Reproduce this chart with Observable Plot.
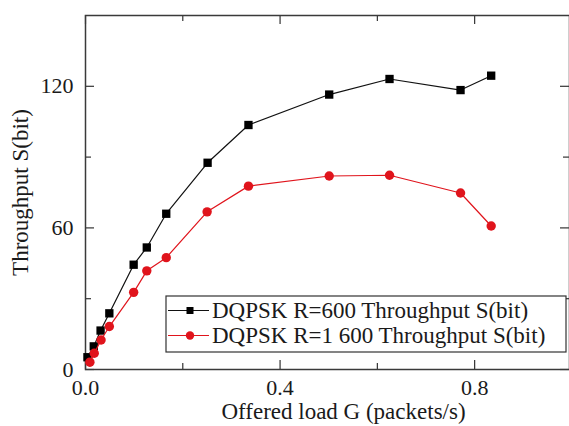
<!DOCTYPE html>
<html><head><meta charset="utf-8">
<script src="https://cdn.jsdelivr.net/npm/d3@7"></script>
<script src="https://cdn.jsdelivr.net/npm/@observablehq/plot@0.6"></script>
<style>
body{margin:0;background:#fff}
#chart{width:569px;height:426px}
</style>
</head><body><div id="chart"></div>
<script>
const seriesNames = ["DQPSK R=600 Throughput S(bit)", "DQPSK R=1 600 Throughput S(bit)"];
const seriesColors = ["#111111", "#e0141c"];
const seriesSymbols = ["square", "circle"];
const loadR600 = [0.004, 0.017, 0.031, 0.049, 0.099, 0.126, 0.166, 0.251, 0.335, 0.501, 0.625, 0.771, 0.834];
const throughputR600 = [5.2, 9.8, 16.5, 23.8, 44.4, 51.7, 66.0, 87.6, 103.6, 116.5, 123.1, 118.4, 124.5];
const loadR1600 = [0.009, 0.018, 0.032, 0.049, 0.099, 0.126, 0.166, 0.25, 0.335, 0.501, 0.625, 0.771, 0.834];
const throughputR1600 = [3.1, 6.9, 12.5, 18.2, 32.7, 41.8, 47.4, 66.8, 77.7, 82.0, 82.3, 74.8, 60.8];
const xTickValues = [0, 0.4, 0.8];
const xMinorTicks = [0.2, 0.6, 1.0];
const yTickValues = [0, 60, 120];
const yMinorTicks = [30, 90];
const xTitle = "Offered load G (packets/s)";
const yTitle = "Throughput S(bit)";

const dataA = loadR600.map((x, i) => ({x, y: throughputR600[i]}));
const dataB = loadR1600.map((x, i) => ({x, y: throughputR1600[i]}));

const W = 569, H = 426, mL = 85, mT = 15, mR = 0, mB = 57;
const fw = W - mL - mR, fh = H - mT - mB;
const tickCol = "#333";
const fontFam = "Liberation Serif, Times New Roman, serif";

const plot = Plot.plot({
  width: W, height: H,
  marginLeft: mL, marginTop: mT, marginRight: mR, marginBottom: mB,
  style: {fontFamily: fontFam, background: "#fff", color: "#1a1a1a"},
  x: {domain: [0, 0.995]},
  y: {domain: [0, 150]},
  marks: [
    Plot.tickX(xTickValues, {x: d => d, insetTop: fh - 9, stroke: tickCol, strokeWidth: 1.2}),
    Plot.tickX(xTickValues, {x: d => d, insetBottom: fh - 9, stroke: tickCol, strokeWidth: 1.2}),
    Plot.tickX(xMinorTicks, {x: d => d, insetTop: fh - 6, stroke: tickCol, strokeWidth: 1.2}),
    Plot.tickX(xMinorTicks, {x: d => d, insetBottom: fh - 6, stroke: tickCol, strokeWidth: 1.2}),
    Plot.tickY(yTickValues, {y: d => d, insetRight: fw - 9, stroke: tickCol, strokeWidth: 1.2}),
    Plot.tickY(yTickValues, {y: d => d, insetLeft: fw - 9, stroke: tickCol, strokeWidth: 1.2}),
    Plot.tickY(yMinorTicks, {y: d => d, insetRight: fw - 6, stroke: tickCol, strokeWidth: 1.2}),
    Plot.tickY(yMinorTicks, {y: d => d, insetLeft: fw - 6, stroke: tickCol, strokeWidth: 1.2}),
    Plot.axisX(xTickValues, {tickSize: 0, tickPadding: 10, fontSize: 22, tickFormat: d3.format(".1f"), label: null}),
    Plot.axisY(yTickValues, {tickSize: 0, tickPadding: 12, fontSize: 22, label: null}),
    Plot.frame({stroke: "#3a3a3a", strokeWidth: 1.5}),
    Plot.line(dataA, {x: "x", y: "y", stroke: seriesColors[0], strokeWidth: 1.2}),
    Plot.dot(dataA, {x: "x", y: "y", symbol: seriesSymbols[0], fill: "#000", r: 4.7}),
    Plot.line(dataB, {x: "x", y: "y", stroke: seriesColors[1], strokeWidth: 1.2}),
    Plot.dot(dataB, {x: "x", y: "y", symbol: seriesSymbols[1], fill: seriesColors[1], r: 4.7}),
    Plot.text([xTitle], {frameAnchor: "bottom", dx: 16, dy: 49, lineAnchor: "bottom", textAnchor: "middle", fontSize: 23, fill: "#1a1a1a"}),
    Plot.text([yTitle], {frameAnchor: "left", dx: -65, rotate: -90, lineAnchor: "middle", textAnchor: "middle", fontSize: 23, fill: "#1a1a1a"})
  ]
});
document.getElementById("chart").appendChild(plot);

// legend inside the plot area
const svg = d3.select(plot);
const lg = svg.append("g").attr("font-family", fontFam).attr("font-size", 23).attr("text-anchor", "start");
lg.append("rect").attr("x", 166).attr("y", 296).attr("width", 400).attr("height", 56)
  .attr("fill", "#fff").attr("stroke", "#333").attr("stroke-width", 1.2);
seriesNames.forEach((name, i) => {
  const cy = 310.5 + i * 25;
  lg.append("line").attr("x1", 168).attr("x2", 209).attr("y1", cy).attr("y2", cy)
    .attr("stroke", seriesColors[i]).attr("stroke-width", 1.2);
  if (seriesSymbols[i] === "square") {
    lg.append("rect").attr("x", 186.5).attr("y", cy - 3.5).attr("width", 7).attr("height", 7).attr("fill", "#000");
  } else {
    lg.append("circle").attr("cx", 190).attr("cy", cy).attr("r", 4.2).attr("fill", seriesColors[i]);
  }
  lg.append("text").attr("x", 212).attr("y", cy).attr("dy", "0.34em").attr("text-anchor", "start").attr("fill", "#1a1a1a").text(name);
});
</script>
</body></html>
